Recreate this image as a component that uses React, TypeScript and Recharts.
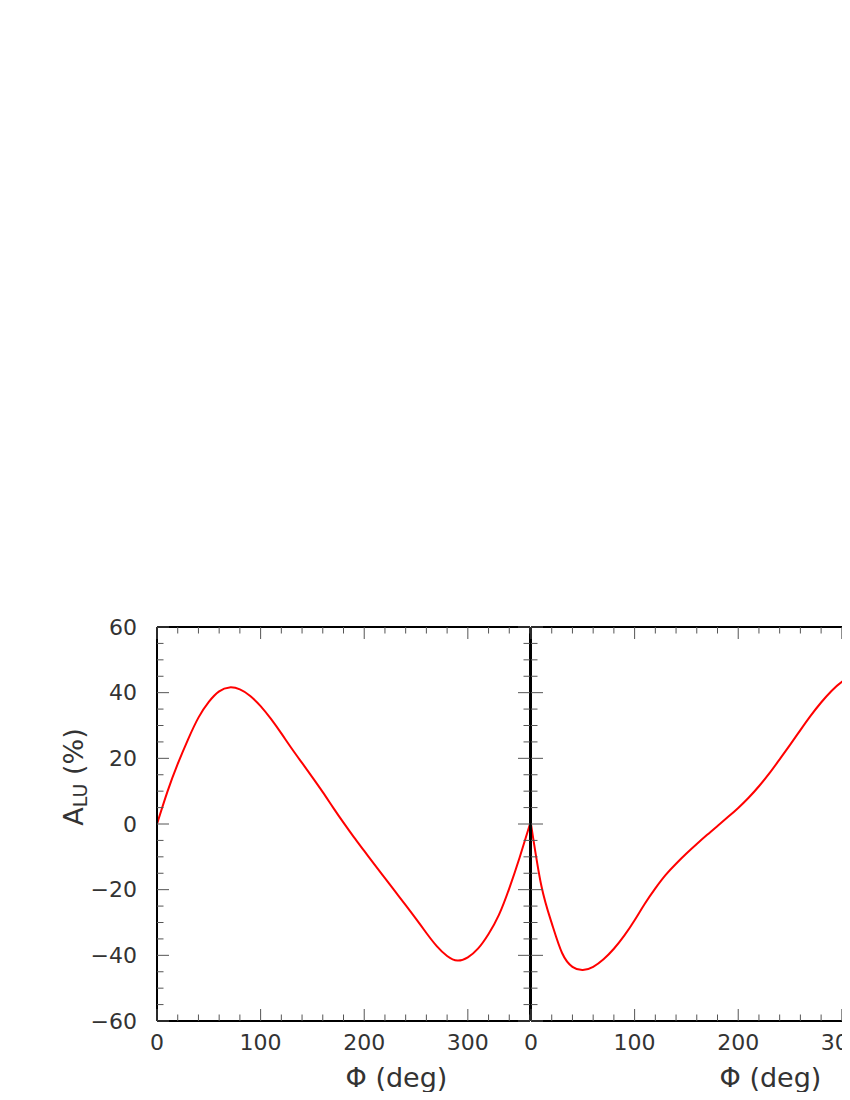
import { Line, LineChart, XAxis, YAxis } from "recharts";

// phi grid (deg) and the two asymmetry curves A_LU (%)
const PHI = [
  0, 10, 20, 30, 40, 50, 60, 70, 80, 90, 100, 110, 120, 130, 140, 150, 160, 170, 180,
  190, 200, 210, 220, 230, 240, 250, 260, 270, 280, 290, 300, 310, 320, 330, 340, 350, 360,
];
const A_LU_LEFT = [
  0, 9.8, 18.3, 25.8, 32.4, 37.2, 40.4, 41.6, 41.0, 39.0, 35.9, 32.0, 27.6, 23.0, 18.6,
  14.2, 9.7, 5.0, 0.4, -4.0, -8.2, -12.4, -16.5, -20.6, -24.7, -28.9, -33.2, -37.2, -40.2,
  -41.6, -40.6, -37.9, -33.5, -27.7, -19.6, -10.2, 0,
];
const A_LU_RIGHT = [
  0, -18.8, -30.2, -39.3, -43.5, -44.5, -43.5, -41.2, -38.0, -34.0, -29.3, -24.2, -19.6,
  -15.5, -12.1, -9.0, -6.1, -3.3, -0.6, 2.1, 4.9, 8.0, 11.5, 15.4, 19.7, 24.1, 28.6, 33.0,
  37.0, 40.5, 43.3, 44.8, 44.5, 41.0, 33.0, 19.0, 0,
];

const X_TICKS = [0, 20, 40, 60, 80, 100, 120, 140, 160, 180, 200, 220, 240, 260, 280, 300, 320, 340, 360];
const X_LABELS = [0, 100, 200, 300];
const Y_TICKS = [
  -60, -55, -50, -45, -40, -35, -30, -25, -20, -15, -10, -5, 0, 5, 10, 15, 20, 25, 30, 35, 40,
  45, 50, 55, 60,
];
const Y_LABELS = [-60, -40, -20, 0, 20, 40, 60];

const rows = PHI.map((phi, i) => ({ phi, left: A_LU_LEFT[i], right: A_LU_RIGHT[i] }));

const H = 1084;
const PLOT_TOP = 619;
const PLOT_H = 394;
const PLOT_W = 373;
const TICK = "#555";
const TEXT = "#333";
const FONT = "DejaVu Sans";
const frame = { stroke: "#000", strokeWidth: 2 };

const fmt = (v: number) => (v < 0 ? `\u2212${Math.abs(v)}` : String(v));

// ticks are drawn from the known axis line (ay / ax), pointing into the frame
function XTick(props: any) {
  const { x, payload, ay, dir, labels } = props;
  const v = payload.value;
  const len = v % 100 === 0 ? 12 : 6.5;
  return (
    <g>
      <line x1={x} x2={x} y1={ay} y2={ay + dir * len} stroke={TICK} strokeWidth={1} />
      {labels.includes(v) && (
        <text x={x} y={ay + 21} textAnchor="middle" dominantBaseline="central" fontSize={22} fontFamily={FONT} fill={TEXT}>
          {fmt(v)}
        </text>
      )}
    </g>
  );
}

function YTick(props: any) {
  const { y, payload, ax, dir, labels } = props;
  const v = payload.value;
  const len = v % 20 === 0 ? 12 : 6.5;
  return (
    <g>
      <line x1={ax} x2={ax + dir * len} y1={y} y2={y} stroke={TICK} strokeWidth={1} />
      {labels.includes(v) && (
        <text x={ax - 20} y={y} textAnchor="end" dominantBaseline="central" fontSize={22} fontFamily={FONT} fill={TEXT}>
          {fmt(v)}
        </text>
      )}
    </g>
  );
}

function XTitle(props: any) {
  const vb = props.viewBox;
  return (
    <text x={vb.x + vb.width / 2 + 53} y={PLOT_TOP + PLOT_H + 66} textAnchor="middle" fontSize={27} fontFamily={FONT} fill={TEXT}>
      Φ (deg)
    </text>
  );
}

function YTitle() {
  const cx = 75;
  const cy = PLOT_TOP + PLOT_H / 2 - 47;
  return (
    <text transform={`translate(${cx},${cy}) rotate(-90)`} textAnchor="middle" fontSize={27} fontFamily={FONT} fill={TEXT}>
      A
      <tspan fontSize={19} dy={4}>LU</tspan>
      <tspan dy={-4}> (%)</tspan>
    </text>
  );
}

function Panel({ dataKey, left, yWidth, marginRight, yLabels }: any) {
  const width = yWidth + PLOT_W + marginRight;
  const bottom = PLOT_TOP + PLOT_H;
  const right = yWidth + PLOT_W;
  return (
    <div style={{ position: "absolute", left, top: 0 }}>
      <LineChart
        width={width}
        height={H}
        data={rows}
        margin={{ top: PLOT_TOP - 1, right: marginRight - 1, bottom: 0, left: 0 }}
      >
        <XAxis
          xAxisId="b"
          dataKey="phi"
          type="number"
          domain={[0, 360]}
          ticks={X_TICKS}
          interval={0}
          tickLine={false}
          axisLine={frame}
          height={H - bottom}
          tick={(p: any) => <XTick {...p} ay={bottom} dir={-1} labels={X_LABELS} />}
          label={<XTitle />}
        />
        <XAxis
          xAxisId="t"
          orientation="top"
          dataKey="phi"
          type="number"
          domain={[0, 360]}
          ticks={X_TICKS}
          interval={0}
          tickLine={false}
          axisLine={frame}
          height={1}
          tick={(p: any) => <XTick {...p} ay={PLOT_TOP} dir={1} labels={[]} />}
        />
        <YAxis
          yAxisId="l"
          type="number"
          domain={[-60, 60]}
          ticks={Y_TICKS}
          interval={0}
          tickLine={false}
          axisLine={frame}
          width={yWidth}
          tick={(p: any) => <YTick {...p} ax={yWidth} dir={1} labels={yLabels} />}
          label={yLabels.length ? <YTitle /> : undefined}
        />
        <YAxis
          yAxisId="r"
          orientation="right"
          type="number"
          domain={[-60, 60]}
          ticks={Y_TICKS}
          interval={0}
          tickLine={false}
          axisLine={frame}
          width={1}
          tick={(p: any) => <YTick {...p} ax={right} dir={-1} labels={[]} />}
        />
        <Line
          xAxisId="b"
          yAxisId="l"
          dataKey={dataKey}
          type="natural"
          stroke="#ff0000"
          strokeWidth={2}
          dot={false}
          isAnimationActive={false}
        />
        <Line
          xAxisId="t"
          yAxisId="r"
          dataKey={dataKey}
          stroke="none"
          dot={false}
          isAnimationActive={false}
        />
      </LineChart>
    </div>
  );
}

export default function App() {
  return (
    <div style={{ position: "relative", width: 842, height: H, overflow: "hidden", background: "#fff" }}>
      <Panel dataKey="left" left={0} yWidth={149} marginRight={30} yLabels={Y_LABELS} />
      <Panel dataKey="right" left={483} yWidth={40} marginRight={87} yLabels={[]} />
    </div>
  );
}
